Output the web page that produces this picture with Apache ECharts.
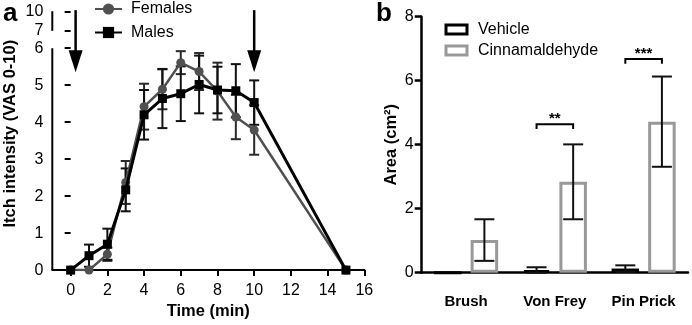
<!DOCTYPE html>
<html>
<head>
<meta charset="utf-8">
<script src="https://cdn.jsdelivr.net/npm/echarts@6/dist/echarts.min.js"></script>
<style>
  html, body { margin: 0; padding: 0; background: #fff; }
  #chart { width: 692px; height: 325px; }
</style>
</head>
<body>
<div id="chart"></div>
<script>
// ---- Panel a: itch intensity time course ----
const times = [0, 1, 2, 3, 4, 5, 6, 7, 8, 9, 10, 15];
const females = [0, 0, 0.43, 2.37, 4.42, 4.89, 5.61, 5.37, 4.84, 4.14, 3.79, 0];
const femalesSem = [0, 0, 0.18, 0.58, 0.62, 0.54, 0.31, 0.5, 0.77, 0.6, 0.67, 0];
const males = [0, 0.39, 0.70, 2.17, 4.20, 4.64, 4.77, 5.02, 4.87, 4.85, 4.53, 0];
const malesSem = [0, 0.3, 0.42, 0.58, 0.67, 0.8, 0.74, 0.78, 0.63, 0.72, 0.6, 0];
const timeTicks = [0, 2, 4, 6, 8, 10, 12, 14, 16];
// stimulus arrows: time, top of shaft, tip
const arrowTimes = [0.27, 10];
const arrowTop = 7.03;
const arrowTip = 5.35;

// The y axis is broken above 6: the short upper segment carries the 7 and 10 ticks.
const Y_SEG_LOW = 6.47;
const Y_SEG_TOP = 7;
const yTickValues = [0, 1, 2, 3, 4, 5, 6, Y_SEG_LOW, Y_SEG_TOP];
const yTickText = ['0', '1', '2', '3', '4', '5', '6', '7', '10'];

// ---- Panel b: area of sensitised skin ----
const categories = ['Brush', 'Von Frey', 'Pin Prick'];
const vehicle = [0, 0.07, 0.13];
const vehicleSem = [0, 0.1, 0.1];
const cinnamaldehyde = [1.02, 2.84, 4.72];
const cinnamaldehydeSem = [0.65, 1.17, 1.41];
const sigCategory = [1, 2];
const sigLevel = [4.64, 6.68];
const sigLabel = ['**', '***'];

const FONT = '"Liberation Sans", Arial, sans-serif';
const BAR_FRAC = 0.31;
const BAR_GAP = 0.33;
const BAR_OFFSET = BAR_FRAC * (1 + BAR_GAP) / 2;

function capLines(x, yTop, yBot, hw, color, width) {
  return [
    { type: 'line', shape: { x1: x, y1: yTop, x2: x, y2: yBot }, style: { stroke: color, lineWidth: width } },
    { type: 'line', shape: { x1: x - hw, y1: yTop, x2: x + hw, y2: yTop }, style: { stroke: color, lineWidth: width } },
    { type: 'line', shape: { x1: x - hw, y1: yBot, x2: x + hw, y2: yBot }, style: { stroke: color, lineWidth: width } }
  ];
}

function timeErrorSeries(name, means, sems, color) {
  return {
    type: 'custom', name: name + ' SEM', xAxisIndex: 0, yAxisIndex: 0, z: 1, silent: true,
    data: times.map((t, i) => [t, means[i], sems[i]]),
    renderItem(params, api) {
      const e = api.value(2);
      if (!e) return null;
      const x = api.value(0), m = api.value(1);
      const top = api.coord([x, m + e]);
      const bot = api.coord([x, Math.max(0, m - e)]);
      return { type: 'group', children: capLines(top[0], top[1], bot[1], 5, color, 2) };
    }
  };
}

function barErrorSeries(name, means, sems, side) {
  return {
    type: 'custom', name: name + ' SEM', xAxisIndex: 1, yAxisIndex: 1, z: 5, silent: true,
    data: categories.map((c, i) => [i, means[i], sems[i]]),
    renderItem(params, api) {
      const e = api.value(2);
      if (!e) return null;
      const i = api.value(0), m = api.value(1);
      const bw = api.size([1, 0])[0];
      const top = api.coord([i, m + e]);
      const bot = api.coord([i, Math.max(0, m - e)]);
      const x = top[0] + side * BAR_OFFSET * bw;
      return { type: 'group', children: capLines(x, top[1], bot[1], 10, '#111', 2) };
    }
  };
}

// Segments drawn in data space on panel a: [x1, y1, x2, y2, isArrow]
const axisSegments = [
  [-1, 0, -1, 6, 0],
  [-1, Y_SEG_LOW, -1, Y_SEG_TOP, 0]
].concat(arrowTimes.map(t => [t, arrowTop, t, arrowTip, 1]));

const chart = echarts.init(document.getElementById('chart'));

chart.setOption({
  animation: false,
  textStyle: { fontFamily: FONT, color: '#000' },
  grid: [
    { left: 52.3, right: 327.7, top: 11.25, bottom: 52.3 },
    { left: 421.7, right: 4, top: 16.7, bottom: 52.3 }
  ],
  legend: [
    {
      left: 89, top: -4, padding: 5, orient: 'vertical', itemWidth: 27, itemHeight: 14, itemGap: 7.5,
      textStyle: { fontFamily: FONT, fontSize: 16, color: '#000', padding: [0, 0, 0, 4] },
      data: ['Females', 'Males']
    },
    {
      left: 439.5, top: 16.5, padding: 5, orient: 'vertical', itemWidth: 21, itemHeight: 9, itemGap: 5,
      textStyle: { fontFamily: FONT, fontSize: 16, color: '#000', padding: [0, 0, 0, 6] },
      data: [
        { name: 'Vehicle', icon: 'rect', itemStyle: { color: '#fff', borderColor: '#000', borderWidth: 3 } },
        { name: 'Cinnamaldehyde', icon: 'rect', itemStyle: { color: '#fff', borderColor: '#999', borderWidth: 3 } }
      ]
    }
  ],
  xAxis: [
    {
      type: 'value', gridIndex: 0, min: -1, max: 16,
      name: 'Time (min)', nameLocation: 'middle', nameGap: 26,
      nameTextStyle: { fontFamily: FONT, fontSize: 16.5, fontWeight: 'bold', color: '#000' },
      axisLine: { lineStyle: { color: '#000', width: 2 } },
      axisTick: { customValues: timeTicks, length: 6, lineStyle: { color: '#000', width: 2 } },
      axisLabel: { customValues: timeTicks, margin: 12, fontSize: 16, color: '#000', fontFamily: FONT },
      splitLine: { show: false }
    },
    {
      type: 'category', gridIndex: 1, data: categories,
      axisLine: { lineStyle: { color: '#000', width: 2.5 } },
      axisTick: { alignWithLabel: true, length: 7, lineStyle: { color: '#000', width: 2.5 } },
      axisLabel: { margin: 22, fontSize: 15, fontWeight: 'bold', color: '#000', fontFamily: FONT }
    }
  ],
  yAxis: [
    {
      type: 'value', gridIndex: 0, min: 0, max: Y_SEG_TOP,
      name: 'Itch intensity (VAS 0-10)', nameLocation: 'middle', nameGap: 33,
      nameTextStyle: { fontFamily: FONT, fontSize: 16.5, fontWeight: 'bold', color: '#000', padding: [0, 0, 0, 14] },
      axisLine: { show: false },
      axisTick: { show: true, customValues: yTickValues, length: 6, lineStyle: { color: '#000', width: 2 } },
      axisLabel: {
        customValues: yTickValues, margin: 9, fontSize: 16, color: '#000', fontFamily: FONT,
        formatter: v => {
          const k = yTickValues.findIndex(t => Math.abs(t - v) < 1e-6);
          return k >= 0 ? yTickText[k] : '';
        }
      },
      splitLine: { show: false }
    },
    {
      type: 'value', gridIndex: 1, min: 0, max: 8, interval: 2,
      name: 'Area (cm²)', nameLocation: 'middle', nameGap: 22,
      nameTextStyle: { fontFamily: FONT, fontSize: 16.5, fontWeight: 'bold', color: '#000' },
      axisLine: { show: true, lineStyle: { color: '#000', width: 2.5 } },
      axisTick: { show: true, length: 7, lineStyle: { color: '#000', width: 2.5 } },
      axisLabel: { margin: 8, fontSize: 16, color: '#000', fontFamily: FONT },
      splitLine: { show: false }
    }
  ],
  graphic: [
    { type: 'text', left: 3, top: 1, style: { text: 'a', font: 'bold 26px ' + FONT, fill: '#000' } },
    { type: 'text', left: 376, top: 1, style: { text: 'b', font: 'bold 26px ' + FONT, fill: '#000' } }
  ],
  series: [
    {
      type: 'custom', name: 'axis segments', xAxisIndex: 0, yAxisIndex: 0, z: 8, silent: true,
      encode: { x: [0, 2], y: [1, 3] },
      data: axisSegments,
      renderItem(params, api) {
        const a = api.coord([api.value(0), api.value(1)]);
        const b = api.coord([api.value(2), api.value(3)]);
        if (!api.value(4)) {
          return { type: 'line', shape: { x1: a[0], y1: a[1], x2: b[0], y2: b[1] },
                   style: { stroke: '#000', lineWidth: 2 } };
        }
        const headH = 22, headW = 7;
        return {
          type: 'group',
          children: [
            { type: 'line', shape: { x1: a[0], y1: a[1], x2: b[0], y2: b[1] - headH + 2 },
              style: { stroke: '#000', lineWidth: 2.5 } },
            { type: 'polygon', shape: { points: [[b[0] - headW, b[1] - headH], [b[0] + headW, b[1] - headH], [b[0], b[1]]] },
              style: { fill: '#000' } }
          ]
        };
      }
    },
    timeErrorSeries('Females', females, femalesSem, '#2a2a2a'),
    timeErrorSeries('Males', males, malesSem, '#111'),
    {
      name: 'Females', type: 'line', xAxisIndex: 0, yAxisIndex: 0, z: 3,
      data: times.map((t, i) => [t, females[i]]),
      symbol: 'circle', symbolSize: 9,
      itemStyle: { color: '#505050' },
      lineStyle: { color: '#505050', width: 2.5 }
    },
    {
      name: 'Males', type: 'line', xAxisIndex: 0, yAxisIndex: 0, z: 4,
      data: times.map((t, i) => [t, males[i]]),
      symbol: 'rect', symbolSize: 9,
      itemStyle: { color: '#000' },
      lineStyle: { color: '#000', width: 3 }
    },
    {
      name: 'Vehicle', type: 'bar', xAxisIndex: 1, yAxisIndex: 1, z: 2,
      data: vehicle, barWidth: (BAR_FRAC * 100) + '%', barGap: (BAR_GAP * 100) + '%',
      itemStyle: { color: '#fff', borderColor: '#000', borderWidth: 3 }
    },
    {
      name: 'Cinnamaldehyde', type: 'bar', xAxisIndex: 1, yAxisIndex: 1, z: 2,
      data: cinnamaldehyde, barWidth: (BAR_FRAC * 100) + '%', barGap: (BAR_GAP * 100) + '%',
      itemStyle: { color: '#fff', borderColor: '#999', borderWidth: 3 }
    },
    barErrorSeries('Vehicle', vehicle, vehicleSem, -1),
    barErrorSeries('Cinnamaldehyde', cinnamaldehyde, cinnamaldehydeSem, 1),
    {
      type: 'custom', name: 'significance', xAxisIndex: 1, yAxisIndex: 1, z: 6, silent: true,
      data: sigCategory.map((c, i) => [c, sigLevel[i]]),
      renderItem(params, api) {
        const i = api.value(0), lvl = api.value(1);
        const bw = api.size([1, 0])[0];
        const p = api.coord([i, lvl]);
        const drop = api.size([0, 0.15])[1];
        const x1 = p[0] - BAR_OFFSET * bw, x2 = p[0] + BAR_OFFSET * bw;
        return {
          type: 'group',
          children: [
            { type: 'polyline', shape: { points: [[x1, p[1] + drop], [x1, p[1]], [x2, p[1]], [x2, p[1] + drop]] },
              style: { stroke: '#000', lineWidth: 2, fill: null } },
            { type: 'text', x: (x1 + x2) / 2, y: p[1] + 2,
              style: { text: sigLabel[params.dataIndex], font: 'bold 15px ' + FONT, fill: '#000',
                       align: 'center', verticalAlign: 'bottom' } }
          ]
        };
      }
    }
  ]
});
</script>
</body>
</html>
